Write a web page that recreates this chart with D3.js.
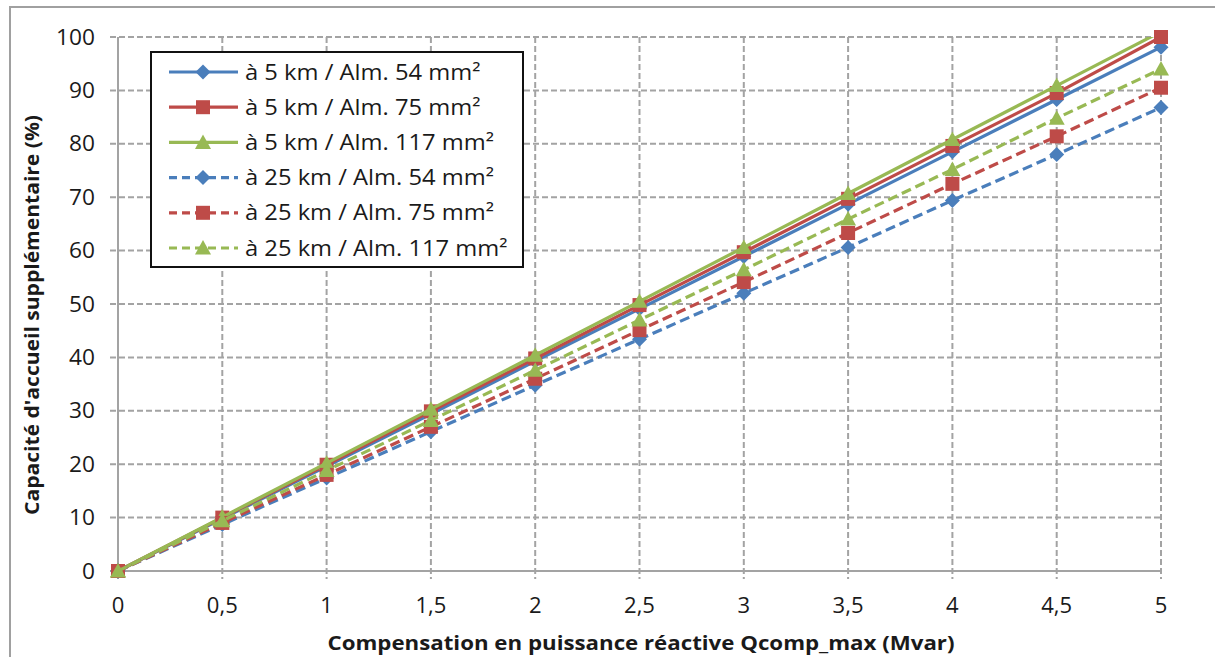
<!DOCTYPE html>
<html>
<head>
<meta charset="utf-8">
<script src="https://cdn.jsdelivr.net/npm/d3@7"></script>
<style>
  html, body { margin: 0; padding: 0; background: #fff; }
  svg { display: block; font-family: "Open Sans", sans-serif; }
</style>
</head>
<body>
<svg id="chart" width="1215" height="657"></svg>
<script>
// ---- Data ----
const xValues = [0, 0.5, 1, 1.5, 2, 2.5, 3, 3.5, 4, 4.5, 5];
const km5_alm54  = [0, 9.8, 19.6, 29.4, 39.3, 49.1, 58.9, 68.7, 78.5, 88.3, 98.1];
const km5_alm75  = [0, 10.0, 19.9, 29.9, 39.8, 49.8, 59.7, 69.7, 79.6, 89.5, 100];
const km5_alm117 = [0, 10.1, 20.2, 30.3, 40.4, 50.5, 60.6, 70.7, 80.8, 90.9, 101];
const km25_alm54  = [0, 8.7, 17.4, 26.1, 34.8, 43.4, 52.0, 60.6, 69.4, 78.0, 86.8];
const km25_alm75  = [0, 9.0, 18.0, 27.0, 36.0, 45.1, 54.1, 63.3, 72.5, 81.4, 90.5];
const km25_alm117 = [0, 9.4, 18.8, 28.2, 37.6, 47.0, 56.4, 65.9, 75.2, 84.8, 94.0];
const seriesNames = [
  "à 5 km / Alm. 54 mm²", "à 5 km / Alm. 75 mm²", "à 5 km / Alm. 117 mm²",
  "à 25 km / Alm. 54 mm²", "à 25 km / Alm. 75 mm²", "à 25 km / Alm. 117 mm²"
];
const seriesValues = [km5_alm54, km5_alm75, km5_alm117, km25_alm54, km25_alm75, km25_alm117];
const seriesColors = ["#4A7EBB", "#BE4B48", "#98B954", "#4A7EBB", "#BE4B48", "#98B954"];
const seriesMarkers = ["diamond", "square", "triangle", "diamond", "square", "triangle"];
const seriesDashed = [false, false, false, true, true, true];
const xTicks = [0, 0.5, 1, 1.5, 2, 2.5, 3, 3.5, 4, 4.5, 5];
const yTicks = [0, 10, 20, 30, 40, 50, 60, 70, 80, 90, 100];
const xTitle = "Compensation en puissance réactive Qcomp_max (Mvar)";
const yTitle = "Capacité d'accueil supplémentaire (%)";

(function () {
const svg = d3.select("#chart");
const pLeft = 118, pRight = 1161, pTop = 37, pBottom = 571;
const x = d3.scaleLinear().domain([0, 5]).range([pLeft, pRight]);
const y = d3.scaleLinear().domain([0, 100]).range([pBottom, pTop]);
const gridColor = "#A3A3A3";
const textColor = "#1a1a1a";

// stretch text horizontally (reference glyphs are wide)
function stretch(sel, k) {
  sel.each(function () {
    const w = this.getComputedTextLength();
    d3.select(this).attr("textLength", w * k).attr("lengthAdjust", "spacingAndGlyphs");
  });
}

// outer chart border
svg.append("rect").attr("x", 10).attr("y", 7).attr("width", 1230).attr("height", 680)
  .attr("fill", "none").attr("stroke", "#A0A0A0").attr("stroke-width", 2);

// grid lines (horizontal)
svg.append("g").selectAll("line").data(yTicks.filter(d => d > 0)).join("line")
  .attr("x1", pLeft - 8).attr("x2", pRight)
  .attr("y1", d => y(d)).attr("y2", d => y(d))
  .attr("stroke", gridColor).attr("stroke-width", 2).attr("stroke-dasharray", "6,3");
svg.append("line").attr("x1", pLeft - 8).attr("x2", pLeft).attr("y1", y(0)).attr("y2", y(0))
  .attr("stroke", gridColor).attr("stroke-width", 2);
// grid lines (vertical)
svg.append("g").selectAll("line").data(xTicks.filter(d => d > 0)).join("line")
  .attr("x1", d => x(d)).attr("x2", d => x(d))
  .attr("y1", pTop).attr("y2", pBottom + 8)
  .attr("stroke", gridColor).attr("stroke-width", 2).attr("stroke-dasharray", "6,3");
svg.append("line").attr("x1", pLeft).attr("x2", pLeft).attr("y1", pBottom).attr("y2", pBottom + 8)
  .attr("stroke", gridColor).attr("stroke-width", 2);

// axes lines
svg.append("line").attr("x1", pLeft).attr("x2", pLeft).attr("y1", pTop).attr("y2", pBottom)
  .attr("stroke", gridColor).attr("stroke-width", 2);
svg.append("line").attr("x1", pLeft).attr("x2", pRight).attr("y1", pBottom).attr("y2", pBottom)
  .attr("stroke", gridColor).attr("stroke-width", 2);

// tick labels
const fmt = d => String(d).replace(".", ",");
svg.append("g").selectAll("text").data(yTicks).join("text")
  .attr("x", 95).attr("y", d => y(d)).attr("dy", "0.36em")
  .attr("text-anchor", "end").attr("font-size", 21).attr("fill", textColor)
  .text(d => d).call(stretch, 1.08);
svg.append("g").selectAll("text").data(xTicks).join("text")
  .attr("x", d => x(d)).attr("y", 613)
  .attr("text-anchor", "middle").attr("font-size", 21).attr("fill", textColor)
  .text(fmt).call(stretch, 1.05);

// titles
svg.append("text").attr("x", 641).attr("y", 650).attr("text-anchor", "middle")
  .attr("font-size", 20).attr("font-weight", "bold").attr("fill", textColor)
  .attr("textLength", 627).attr("lengthAdjust", "spacingAndGlyphs")
  .text(xTitle);
svg.append("text").attr("transform", "translate(39,315) rotate(-90)").attr("text-anchor", "middle")
  .attr("font-size", 20).attr("font-weight", "bold").attr("fill", textColor)
  .attr("textLength", 400).attr("lengthAdjust", "spacingAndGlyphs")
  .text(yTitle);

function markerPath(type) {
  if (type === "diamond") return "M0,-7.5L7.5,0L0,7.5L-7.5,0Z";
  if (type === "square") return "M-7,-7H7V7H-7Z";
  return "M0,-8L8,6.5H-8Z";
}

svg.append("clipPath").attr("id", "plotclip").append("rect")
  .attr("x", pLeft - 10).attr("y", pTop).attr("width", pRight - pLeft + 20).attr("height", pBottom - pTop + 12);

const line = d3.line().x(d => x(d[0])).y(d => y(d[1]));
const plot = svg.append("g");
seriesValues.forEach((vals, i) => {
  const pts = xValues.map((xv, j) => [xv, vals[j]]);
  const g = plot.append("g");
  g.append("path").attr("d", line(pts)).attr("fill", "none")
    .attr("clip-path", "url(#plotclip)")
    .attr("stroke", seriesColors[i]).attr("stroke-width", 3.2)
    .attr("stroke-dasharray", seriesDashed[i] ? "10,5" : null)
    .attr("stroke-linejoin", "round");
  g.selectAll("path.m").data(pts.filter(p => p[1] <= 100)).join("path").attr("class", "m")
    .attr("transform", p => `translate(${x(p[0])},${y(p[1])})`)
    .attr("d", markerPath(seriesMarkers[i]))
    .attr("fill", seriesColors[i]);
});

// legend
const lg = svg.append("g");
lg.append("rect").attr("x", 151).attr("y", 52).attr("width", 372).attr("height", 215)
  .attr("fill", "#fff").attr("stroke", "#111").attr("stroke-width", 2);
seriesNames.forEach((name, i) => {
  const cy = 72 + i * 35.2;
  lg.append("line").attr("x1", 169).attr("x2", 238).attr("y1", cy).attr("y2", cy)
    .attr("stroke", seriesColors[i]).attr("stroke-width", 3.2)
    .attr("stroke-dasharray", seriesDashed[i] ? "8,5" : null);
  lg.append("path").attr("transform", `translate(203,${cy})`)
    .attr("d", markerPath(seriesMarkers[i])).attr("fill", seriesColors[i]);
  lg.append("text").attr("x", 245).attr("y", cy).attr("dy", "0.36em")
    .attr("font-size", 21).attr("fill", textColor).text(name).call(stretch, 1.13);
});
})();
</script>
</body>
</html>
